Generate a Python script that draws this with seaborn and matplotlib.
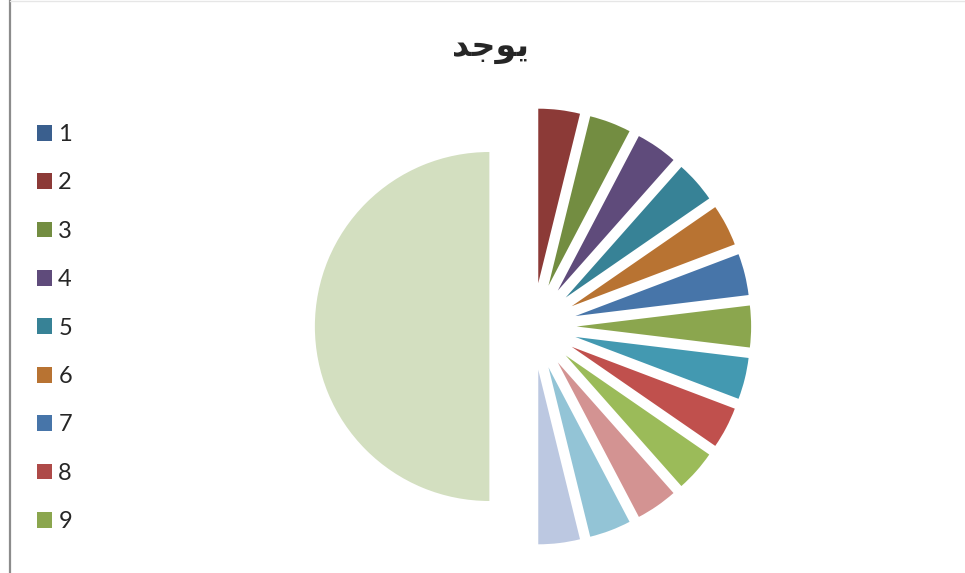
import matplotlib
matplotlib.use("Agg")
import matplotlib.pyplot as plt
import seaborn as sns
from matplotlib.lines import Line2D

# --- DATA ---
categories = [str(i) for i in range(1, 17)]
values = [0, 1, 1, 1, 1, 1, 1, 0, 1, 1, 1, 1, 1, 1, 1, 13]
colors = ["#3A5F8E", "#8C3A37", "#738D41", "#5F4B7B", "#378296", "#B87332",
          "#4775A9", "#AE4A48", "#8BA64E", "#4399B1", "#C0504D", "#9BBB59",
          "#D39392", "#93C4D6", "#BCC8E1", "#D3DFC0"]
legend_count = 9
# "يوجد" written with Arabic presentation forms (visual order) since
# matplotlib does no shaping / bidi
title = "\uFEAA\uFE9F\uFEEE\uFEF3"

sns.set_theme(style="white")
plt.rcParams["font.family"] = ["Lato", "DejaVu Sans"]

W, H = 965, 573
fig = plt.figure(figsize=(W / 100, H / 100), dpi=100)

# pie placed so that radius 1 = ~174.5 px, centre at (533, 326.5)
r_px = 174.5
cx, cy = 533, 326.5
half = 1.4 * r_px
ax = fig.add_axes([(cx - half) / W, (H - cy - half) / H, 2 * half / W, 2 * half / H])
wedges, _ = ax.pie(values, colors=colors, startangle=90, counterclock=False,
                   explode=[0.25] * len(values), radius=1,
                   wedgeprops=dict(linewidth=0))
ax.set_xlim(-1.4, 1.4)
ax.set_ylim(-1.4, 1.4)
ax.set_aspect("auto")
ax.axis("off")

fig.text(490 / W, 1 - 47 / H, title, ha="center", va="center",
         fontsize=24, fontweight="bold", family=["DejaVu Sans"])

fig.legend(wedges[:legend_count], categories[:legend_count],
           loc="upper left", bbox_to_anchor=(37 / W, 1 - 124 / H),
           frameon=False, fontsize=17, handlelength=0.65, handleheight=0.65,
           handletextpad=0.25, labelspacing=1.16, borderpad=0, borderaxespad=0)

# chart border (left edge visible)
fig.add_artist(Line2D([9.5 / W, 9.5 / W], [0, 1], color="#8C8C8C", linewidth=1.6))
fig.add_artist(Line2D([9.5 / W, 1], [1 - 0.5 / H, 1 - 0.5 / H], color="#E6E6E6", linewidth=1))

fig.savefig("out.png", dpi=100)
